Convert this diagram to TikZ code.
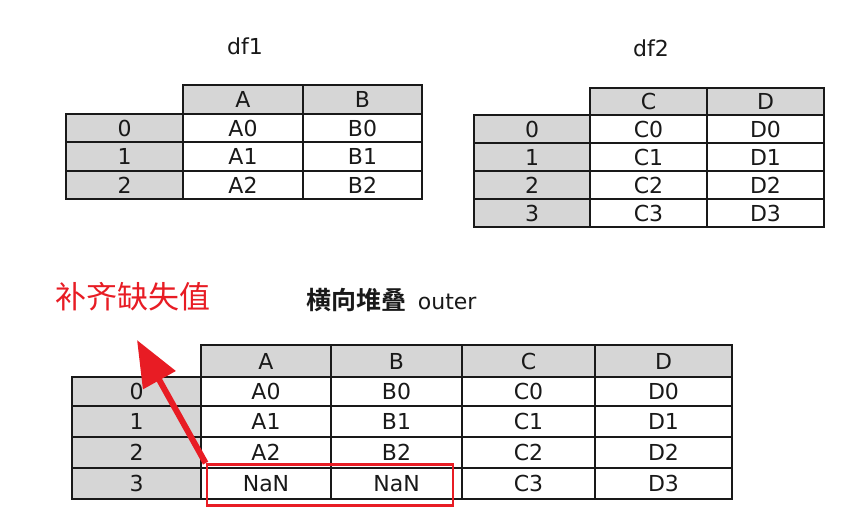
\documentclass[tikz,border=0pt]{standalone}
\usepackage{fontspec}
\setmainfont{DejaVu Sans}
\newfontfamily\cjk{Noto Sans CJK SC}
\newfontfamily\cjkb{Noto Sans CJK SC Bold}
\usetikzlibrary{arrows.meta}
\definecolor{hdr}{RGB}{214,214,214}
\definecolor{lbl}{RGB}{232,28,36}
\definecolor{ink}{RGB}{25,25,25}
\tikzset{
  cell/.style={draw=ink, line width=1.9pt, inner sep=0pt, font=\fontsize{22}{22}\selectfont, text=ink},
  title/.style={font=\fontsize{22}{22}\selectfont, text=ink},
}
% \tcell{name}{x1}{y1}{x2}{y2}{fill}{text}
\newcommand\tcell[7]{%
  \node[cell, fill=#6, minimum width={(#4-#2)*1pt}, minimum height={(#5-#3)*1pt}]
    (#1) at ({(#2+#4)/2},{(#3+#5)/2}) {#7};}
\begin{document}
\begin{tikzpicture}[x=1pt,y=-1pt]
\useasboundingbox[fill=white] (0,0) rectangle (861,526);

% ---------- df1 ----------
\node[title] (t1) at (245,46) {df1};
\tcell{a-hA}{183}{85}{303}{114}{hdr}{A}
\tcell{a-hB}{303}{85}{422}{114}{hdr}{B}
\foreach \r/\ya/\yb in {0/114/142,1/142/171,2/171/199}{
  \tcell{a-i\r}{66}{\ya}{183}{\yb}{hdr}{\r}
  \tcell{a-A\r}{183}{\ya}{303}{\yb}{white}{A\r}
  \tcell{a-B\r}{303}{\ya}{422}{\yb}{white}{B\r}
}

% ---------- df2 ----------
\node[title] (t2) at (651,48) {df2};
\tcell{b-hC}{590}{88}{707}{115}{hdr}{C}
\tcell{b-hD}{707}{88}{824}{115}{hdr}{D}
\foreach \r/\ya/\yb in {0/115/143,1/143/171,2/171/199,3/199/227}{
  \tcell{b-i\r}{474}{\ya}{590}{\yb}{hdr}{\r}
  \tcell{b-C\r}{590}{\ya}{707}{\yb}{white}{C\r}
  \tcell{b-D\r}{707}{\ya}{824}{\yb}{white}{D\r}
}

% ---------- outer ----------
\node[title, anchor=west, font=\cjkb\fontsize{25}{25}\selectfont] (t3) at (303,300) {横向堆叠\ \ {\fontspec{DejaVu Sans}\fontsize{22}{22}\selectfont outer}};
\tcell{c-hA}{201}{345}{331}{377}{hdr}{A}
\tcell{c-hB}{331}{345}{462}{377}{hdr}{B}
\tcell{c-hC}{462}{345}{595}{377}{hdr}{C}
\tcell{c-hD}{595}{345}{732}{377}{hdr}{D}
\foreach \r/\ya/\yb in {0/377/406,1/406/437,2/437/468}{
  \tcell{c-i\r}{72}{\ya}{201}{\yb}{hdr}{\r}
  \tcell{c-A\r}{201}{\ya}{331}{\yb}{white}{A\r}
  \tcell{c-B\r}{331}{\ya}{462}{\yb}{white}{B\r}
  \tcell{c-C\r}{462}{\ya}{595}{\yb}{white}{C\r}
  \tcell{c-D\r}{595}{\ya}{732}{\yb}{white}{D\r}
}
\tcell{c-i3}{72}{468}{201}{499}{hdr}{3}
\tcell{c-A3}{201}{468}{331}{499}{white}{NaN}
\tcell{c-B3}{331}{468}{462}{499}{white}{NaN}
\tcell{c-C3}{462}{468}{595}{499}{white}{C3}
\tcell{c-D3}{595}{468}{732}{499}{white}{D3}

% ---------- annotation ----------
\node[draw=lbl, line width=2.8pt, minimum width=246pt, minimum height=41pt, inner sep=0pt] (nan) at (330,485) {};
\node[text=lbl, font=\cjk\fontsize{31}{31}\selectfont, anchor=west] (lab) at (52,297) {补齐缺失值};
\coordinate (tip) at (137,340);
\draw[lbl, line width=6pt, -{Triangle[length=46pt,width=36pt]}] (nan.north west) -- (tip);
\end{tikzpicture}
\end{document}
